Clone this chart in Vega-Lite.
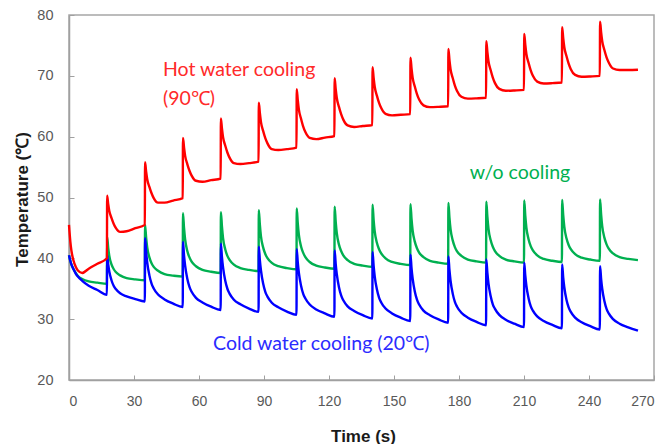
{
"$schema":"https://vega.github.io/schema/vega-lite/v6.json",
"width":585,"height":365,"autosize":"none",
"padding":{"left":69,"top":15,"right":17,"bottom":64},
"background":"white",
"config":{"view":{"stroke":"#A6A6A6","strokeWidth":1.5}},
"datasets":{
"temps":[
{"t":0,"h":45.5,"w":40.5,"c":40.5},
{"t":0.6,"h":42.8,"w":39.6,"c":39.6},
{"t":1.1,"h":41.3,"w":39.0,"c":39.0},
{"t":2.1,"h":39.6,"w":38.2,"c":38.2},
{"t":3.1,"h":38.6,"w":37.6,"c":37.5},
{"t":4.1,"h":38.0,"w":37.1,"c":37.0},
{"t":6.1,"h":37.6,"w":36.6,"c":36.3},
{"t":9.1,"h":38.3,"w":36.2,"c":35.5},
{"t":13.1,"h":39.1,"w":36.0,"c":34.8},
{"t":17.5,"h":40.0,"w":35.8,"c":34.0},
{"t":17.6,"h":50.3,"w":43.5,"c":40.5},
{"t":18.1,"h":48.9,"w":41.7,"c":39.0},
{"t":18.6,"h":47.8,"w":40.4,"c":37.85},
{"t":19.6,"h":46.65,"w":39.0,"c":36.4},
{"t":20.6,"h":45.7,"w":38.25,"c":35.5},
{"t":21.6,"h":45.0,"w":37.75,"c":34.95},
{"t":23.6,"h":44.35,"w":37.2,"c":34.25},
{"t":26.6,"h":44.45,"w":36.75,"c":33.75},
{"t":30.6,"h":44.95,"w":36.55,"c":33.3},
{"t":35,"h":45.5,"w":36.4,"c":32.9},
{"t":35.1,"h":55.8,"w":45.5,"c":43.3},
{"t":35.6,"h":54.25,"w":43.4,"c":41.05},
{"t":36.1,"h":53.0,"w":41.8,"c":39.35},
{"t":37.1,"h":51.75,"w":40.15,"c":37.2},
{"t":38.1,"h":50.7,"w":39.2,"c":35.85},
{"t":39.1,"h":49.9,"w":38.6,"c":35.05},
{"t":41.1,"h":49.15,"w":37.95,"c":34.05},
{"t":44.1,"h":49.15,"w":37.4,"c":33.25},
{"t":48.1,"h":49.5,"w":37.15,"c":32.55},
{"t":52.5,"h":49.9,"w":37.0,"c":32.0},
{"t":52.6,"h":59.8,"w":47.4,"c":42.7},
{"t":53.1,"h":58.2,"w":44.95,"c":40.45},
{"t":53.6,"h":56.85,"w":43.1,"c":38.8},
{"t":54.6,"h":55.5,"w":41.2,"c":36.65},
{"t":55.6,"h":54.4,"w":40.15,"c":35.3},
{"t":56.6,"h":53.6,"w":39.45,"c":34.5},
{"t":58.6,"h":52.75,"w":38.7,"c":33.5},
{"t":61.6,"h":52.6,"w":38.1,"c":32.75},
{"t":65.6,"h":52.85,"w":37.8,"c":32.05},
{"t":70,"h":53.1,"w":37.6,"c":31.5},
{"t":70.1,"h":63.0,"w":47.6,"c":42.4},
{"t":70.6,"h":61.3,"w":45.2,"c":40.15},
{"t":71.1,"h":59.9,"w":43.3,"c":38.5},
{"t":72.1,"h":58.55,"w":41.5,"c":36.35},
{"t":73.1,"h":57.4,"w":40.4,"c":35.0},
{"t":74.1,"h":56.55,"w":39.75,"c":34.2},
{"t":76.1,"h":55.65,"w":38.95,"c":33.2},
{"t":79.1,"h":55.5,"w":38.4,"c":32.45},
{"t":83.1,"h":55.65,"w":38.1,"c":31.75},
{"t":87.5,"h":55.9,"w":37.9,"c":31.2},
{"t":87.6,"h":65.6,"w":47.9,"c":41.9},
{"t":88.1,"h":63.85,"w":45.5,"c":39.65},
{"t":88.6,"h":62.4,"w":43.6,"c":38.0},
{"t":89.6,"h":60.95,"w":41.8,"c":35.85},
{"t":90.6,"h":59.75,"w":40.7,"c":34.5},
{"t":91.6,"h":58.9,"w":40.05,"c":33.7},
{"t":93.6,"h":57.95,"w":39.25,"c":32.7},
{"t":96.6,"h":57.8,"w":38.7,"c":31.95},
{"t":100.6,"h":57.95,"w":38.4,"c":31.25},
{"t":105,"h":58.2,"w":38.2,"c":30.7},
{"t":105.1,"h":67.8,"w":48.2,"c":41.5},
{"t":105.6,"h":65.95,"w":45.7,"c":39.3},
{"t":106.1,"h":64.45,"w":43.85,"c":37.6},
{"t":107.1,"h":62.95,"w":41.95,"c":35.5},
{"t":108.1,"h":61.65,"w":40.9,"c":34.15},
{"t":109.1,"h":60.75,"w":40.2,"c":33.4},
{"t":111.1,"h":59.8,"w":39.4,"c":32.4},
{"t":114.1,"h":59.6,"w":38.8,"c":31.6},
{"t":118.1,"h":59.85,"w":38.5,"c":30.95},
{"t":122.5,"h":60.1,"w":38.3,"c":30.4},
{"t":122.6,"h":69.6,"w":48.5,"c":41.3},
{"t":123.1,"h":67.8,"w":46.0,"c":39.05},
{"t":123.6,"h":66.35,"w":44.15,"c":37.4},
{"t":124.6,"h":64.9,"w":42.25,"c":35.25},
{"t":125.6,"h":63.7,"w":41.2,"c":33.9},
{"t":126.6,"h":62.8,"w":40.5,"c":33.1},
{"t":128.6,"h":61.85,"w":39.7,"c":32.1},
{"t":131.6,"h":61.6,"w":39.1,"c":31.35},
{"t":135.6,"h":61.75,"w":38.8,"c":30.65},
{"t":140,"h":61.9,"w":38.6,"c":30.1},
{"t":140.1,"h":71.4,"w":48.8,"c":41.0},
{"t":140.6,"h":69.65,"w":46.3,"c":38.75},
{"t":141.1,"h":68.2,"w":44.45,"c":37.05},
{"t":142.1,"h":66.75,"w":42.55,"c":34.9},
{"t":143.1,"h":65.55,"w":41.5,"c":33.55},
{"t":144.1,"h":64.7,"w":40.8,"c":32.75},
{"t":146.1,"h":63.75,"w":40.0,"c":31.75},
{"t":149.1,"h":63.5,"w":39.4,"c":30.95},
{"t":153.1,"h":63.6,"w":39.1,"c":30.25},
{"t":157.5,"h":63.7,"w":38.9,"c":29.7},
{"t":157.6,"h":73.0,"w":48.9,"c":40.6},
{"t":158.1,"h":71.2,"w":46.45,"c":38.35},
{"t":158.6,"h":69.7,"w":44.6,"c":36.7},
{"t":159.6,"h":68.25,"w":42.75,"c":34.55},
{"t":160.6,"h":67.0,"w":41.65,"c":33.2},
{"t":161.6,"h":66.1,"w":40.95,"c":32.4},
{"t":163.6,"h":65.15,"w":40.2,"c":31.4},
{"t":166.6,"h":64.85,"w":39.6,"c":30.65},
{"t":170.6,"h":64.9,"w":39.3,"c":29.95},
{"t":175,"h":65.0,"w":39.1,"c":29.4},
{"t":175.1,"h":74.4,"w":49.1,"c":40.3},
{"t":175.6,"h":72.6,"w":46.65,"c":38.05},
{"t":176.1,"h":71.1,"w":44.8,"c":36.35},
{"t":177.1,"h":69.65,"w":42.95,"c":34.2},
{"t":178.1,"h":68.4,"w":41.85,"c":32.85},
{"t":179.1,"h":67.5,"w":41.15,"c":32.05},
{"t":181.1,"h":66.55,"w":40.4,"c":31.05},
{"t":184.1,"h":66.25,"w":39.8,"c":30.25},
{"t":188.1,"h":66.3,"w":39.5,"c":29.55},
{"t":192.5,"h":66.4,"w":39.3,"c":29.0},
{"t":192.6,"h":75.7,"w":49.3,"c":39.8},
{"t":193.1,"h":73.9,"w":46.8,"c":37.6},
{"t":193.6,"h":72.4,"w":44.9,"c":35.9},
{"t":194.6,"h":70.95,"w":43.0,"c":33.8},
{"t":195.6,"h":69.7,"w":41.9,"c":32.45},
{"t":196.6,"h":68.8,"w":41.2,"c":31.7},
{"t":198.6,"h":67.85,"w":40.4,"c":30.7},
{"t":201.6,"h":67.55,"w":39.8,"c":29.9},
{"t":205.6,"h":67.6,"w":39.5,"c":29.25},
{"t":210,"h":67.7,"w":39.3,"c":28.7},
{"t":210.1,"h":76.9,"w":49.5,"c":39.3},
{"t":210.6,"h":75.1,"w":47.0,"c":37.15},
{"t":211.1,"h":73.6,"w":45.05,"c":35.5},
{"t":212.1,"h":72.15,"w":43.15,"c":33.45},
{"t":213.1,"h":70.9,"w":42.0,"c":32.15},
{"t":214.1,"h":70.0,"w":41.3,"c":31.4},
{"t":216.1,"h":69.05,"w":40.5,"c":30.45},
{"t":219.1,"h":68.75,"w":39.9,"c":29.7},
{"t":223.1,"h":68.8,"w":39.6,"c":29.05},
{"t":227.5,"h":68.9,"w":39.4,"c":28.5},
{"t":227.6,"h":78.0,"w":49.6,"c":39.0},
{"t":228.1,"h":76.2,"w":47.1,"c":36.85},
{"t":228.6,"h":74.7,"w":45.2,"c":35.25},
{"t":229.6,"h":73.25,"w":43.3,"c":33.2},
{"t":230.6,"h":72.0,"w":42.2,"c":31.95},
{"t":231.6,"h":71.1,"w":41.5,"c":31.2},
{"t":233.6,"h":70.15,"w":40.7,"c":30.25},
{"t":236.6,"h":69.85,"w":40.1,"c":29.5},
{"t":240.6,"h":69.9,"w":39.8,"c":28.85},
{"t":245,"h":70.0,"w":39.6,"c":28.3},
{"t":245.1,"h":78.9,"w":49.7,"c":38.7},
{"t":245.6,"h":77.15,"w":47.2,"c":36.6},
{"t":246.1,"h":75.7,"w":45.3,"c":35.0},
{"t":247.1,"h":74.25,"w":43.4,"c":33.0},
{"t":248.1,"h":73.05,"w":42.3,"c":31.7},
{"t":249.1,"h":72.2,"w":41.6,"c":30.95},
{"t":251.1,"h":71.2,"w":40.8,"c":30.0},
{"t":254.1,"h":70.95,"w":40.2,"c":29.25},
{"t":258.1,"h":70.95,"w":39.9,"c":28.65},
{"t":262.6,"h":71.0,"w":39.7,"c":28.1}
],
"labels":[
{"label":"Hot water cooling","t":43.4,"v":70.0,"s":"h"},
{"label":"(90℃)","t":43.4,"v":65.2,"s":"h"},
{"label":"w/o cooling","t":185,"v":53.0,"s":"w"},
{"label":"Cold water cooling (20℃)","t":66.5,"v":24.9,"s":"c"}
]
},
"layer":[
{"data":{"name":"temps"},
 "mark":{"type":"line","color":"#00B050","strokeWidth":2.4,"interpolate":"monotone"},
 "encoding":{
  "x":{"field":"t","type":"quantitative","scale":{"domain":[0,270],"nice":false,"zero":false},
   "axis":{"values":[0,30,60,90,120,150,180,210,240,270],"grid":false,"domainColor":"#A0A0A0","domainWidth":1.5,"tickColor":"#A0A0A0","tickSize":-5,"labelPadding":19,"labelFont":"Liberation Sans","labelFontSize":14,"labelColor":"#595959","title":"Time (s)","titleFont":"Liberation Sans","titleFontSize":17,"titleFontWeight":"bold","titleColor":"#1a1a1a","titleX":294,"titleY":48,"titleBaseline":"top","titleAnchor":"middle"}},
  "y":{"field":"w","type":"quantitative","scale":{"domain":[20,80],"nice":false,"zero":false},
   "axis":{"values":[20,30,40,50,60,70,80],"grid":false,"domainColor":"#A0A0A0","domainWidth":1.5,"tickColor":"#A0A0A0","tickSize":-5,"labelPadding":21,"labelFont":"Liberation Sans","labelFontSize":14.5,"labelColor":"#595959","title":"Temperature (℃)","titleFont":"Liberation Sans","titleFontSize":17,"titleFontWeight":"bold","titleColor":"#1a1a1a","titleX":-47,"titleY":184,"titleBaseline":"middle","titleAngle":-90,"titleAnchor":"middle"}}
 }},
{"data":{"name":"temps"},
 "mark":{"type":"line","color":"#0000FF","strokeWidth":2.4,"interpolate":"monotone"},
 "encoding":{
  "x":{"field":"t","type":"quantitative"},
  "y":{"field":"c","type":"quantitative"}
 }},
{"data":{"name":"temps"},
 "mark":{"type":"line","color":"#FF0000","strokeWidth":2.4,"interpolate":"monotone"},
 "encoding":{
  "x":{"field":"t","type":"quantitative"},
  "y":{"field":"h","type":"quantitative"}
 }},
{"data":{"name":"labels"},
 "mark":{"type":"text","align":"left","baseline":"alphabetic","font":"Lato","fontSize":19.5},
 "encoding":{
  "x":{"field":"t","type":"quantitative"},
  "y":{"field":"v","type":"quantitative"},
  "text":{"field":"label"},
  "color":{"field":"s","type":"nominal","scale":{"domain":["h","w","c"],"range":["#FF2A2A","#00B050","#2B2BFF"]},"legend":null}
 }}
]
}
